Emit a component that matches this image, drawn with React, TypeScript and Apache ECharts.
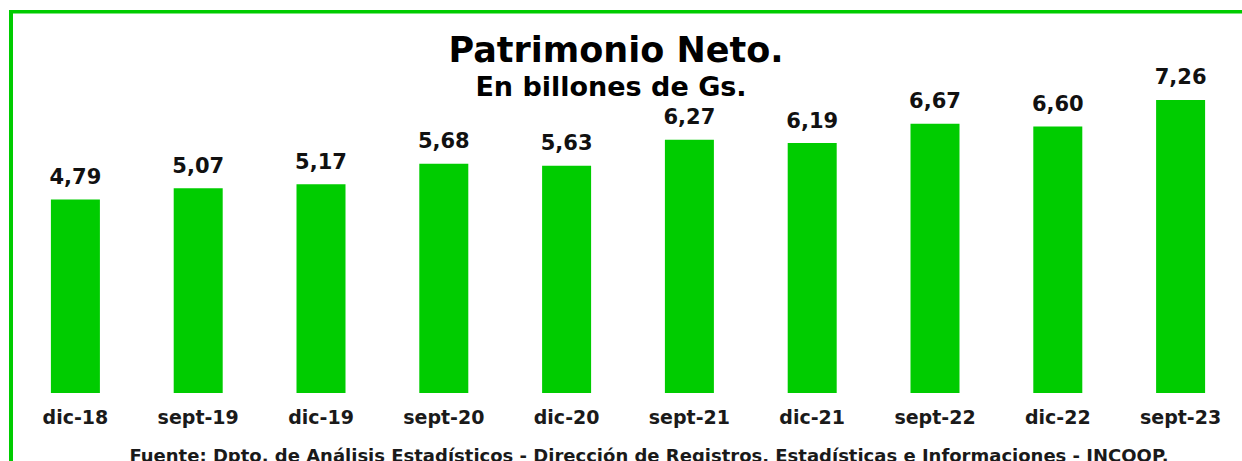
import React, { useEffect, useRef } from "react";
import * as echarts from "echarts";

const categories = ["dic-18", "sept-19", "dic-19", "sept-20", "dic-20", "sept-21", "dic-21", "sept-22", "dic-22", "sept-23"];
const values = [4.79, 5.07, 5.17, 5.68, 5.63, 6.27, 6.19, 6.67, 6.6, 7.26];
const titleText = "Patrimonio Neto.";
const subtitleText = "En billones de Gs.";
const sourceText = "Fuente: Dpto. de Análisis Estadísticos - Dirección de Registros, Estadísticas e Informaciones - INCOOP.";

const GREEN = "#00CC00";

export default function App() {
  const ref = useRef<HTMLDivElement>(null);
  useEffect(() => {
    if (!ref.current) return;
    const chart = echarts.init(ref.current, null, { renderer: "svg" });
    chart.setOption({
      animation: false,
      backgroundColor: "#ffffff",
      grid: { left: 14, right: 0, top: 70, bottom: 68, containLabel: false },
      xAxis: {
        type: "category",
        data: categories,
        axisLine: { show: false },
        axisTick: { show: false },
        axisLabel: {
          margin: 14,
          color: "#1a1a1a",
          fontFamily: "DejaVu Sans",
          fontWeight: "bold",
          fontSize: 19,
        },
      },
      yAxis: { type: "value", min: 0, max: 8, show: false, splitLine: { show: false } },
      series: [
        {
          type: "bar",
          data: values,
          barWidth: 49,
          itemStyle: { color: GREEN },
          label: {
            show: true,
            position: "top",
            distance: 12,
            color: "#111111",
            fontFamily: "DejaVu Sans",
            fontWeight: "bold",
            fontSize: 21,
            formatter: (p: any) => Number(p.value).toFixed(2).replace(".", ","),
          },
        },
      ],
      graphic: [
        { type: "rect", shape: { x: 9, y: 10, width: 4, height: 460 }, style: { fill: GREEN }, silent: true },
        { type: "rect", shape: { x: 9, y: 10, width: 1240, height: 3.4 }, style: { fill: GREEN }, silent: true },
        {
          type: "text",
          x: 616,
          y: 50,
          style: {
            text: titleText,
            fill: "#000000",
            font: "bold 35px 'DejaVu Sans'",
            textAlign: "center",
            textVerticalAlign: "middle",
          },
        },
        {
          type: "text",
          x: 611,
          y: 86,
          style: {
            text: subtitleText,
            fill: "#000000",
            font: "bold 27px 'DejaVu Sans'",
            textAlign: "center",
            textVerticalAlign: "middle",
          },
        },
        {
          type: "text",
          x: 649,
          y: 455,
          style: {
            text: sourceText,
            fill: "#1a1a1a",
            font: "bold 18px 'DejaVu Sans'",
            textAlign: "center",
            textVerticalAlign: "middle",
          },
        },
      ],
    });
    return () => chart.dispose();
  }, []);
  return <div ref={ref} style={{ position: "absolute", left: 0, top: 0, width: 1242, height: 461 }} />;
}
